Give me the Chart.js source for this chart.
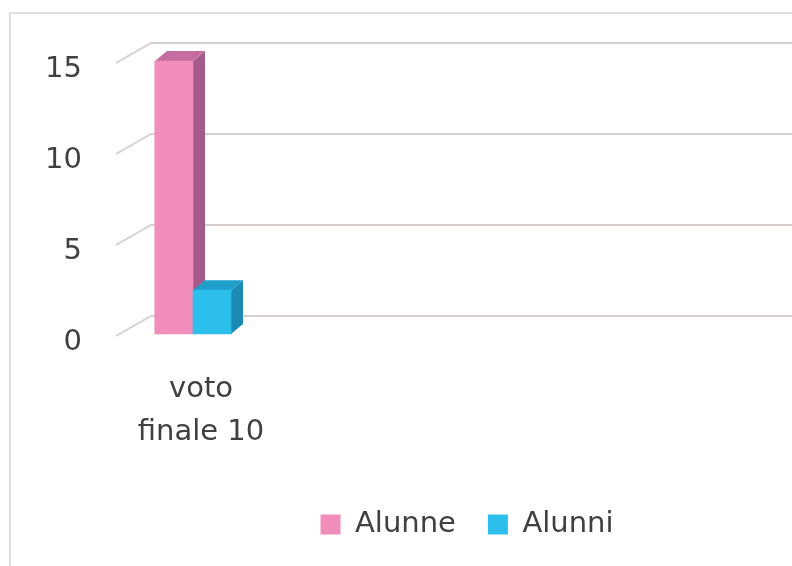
<!DOCTYPE html>
<html>
<head>
<meta charset="utf-8">
<script src="https://cdn.jsdelivr.net/npm/chart.js@4.4.1/dist/chart.umd.min.js"></script>
<style>
  html, body { margin: 0; padding: 0; background: #fff; overflow: hidden; width: 792px; height: 566px; }
  #frame { position: absolute; left: 9px; top: 12px; width: 960px; height: 620px; border: 2px solid #dedede; }
  #chart { position: absolute; left: 0; top: 0; }
</style>
</head>
<body>
<div id="frame"></div>
<canvas id="chart" width="934" height="549"></canvas>
<script>
const categories = ['voto finale 10']
const alunne = [15]
const alunni = [2.4]
const seriesNames = ['Alunne', 'Alunni']
const yTicks = [0, 5, 10, 15]

const textColor = '#404040'
const font = { family: 'DejaVu Sans', size: 29, lineHeight: 1.48 }

// front, side, top colours for each series
const shades = [
  { front: '#F18DBB', side: '#A45A8A', top: '#C56DA1' },
  { front: '#2DBFEC', side: '#1B8AB4', top: '#1F9FCC' },
]

function toPoints(values) {
  return values.map((v, i) => ({ x: i, y: v }))
}

// fake 3d: back wall grid + side/top faces of the columns
const fake3d = {
  id: 'fake3d',
  beforeDatasetsDraw(chart) {
    const ctx = chart.ctx
    const area = chart.chartArea
    const y = chart.scales.y
    ctx.save()
    ctx.strokeStyle = '#d9cfcf'
    ctx.lineWidth = 2
    yTicks.forEach(v => {
      const py = y.getPixelForValue(v)
      ctx.beginPath()
      ctx.moveTo(area.left - 2, py + 2)
      ctx.lineTo(area.left + 33, py - 18)
      ctx.lineTo(chart.width, py - 18)
      ctx.stroke()
    })
    ctx.restore()
  },
  afterDatasetsDraw(chart) {
    const ctx = chart.ctx
    const dx = 12, dy = -10
    chart.data.datasets.forEach((ds, di) => {
      const meta = chart.getDatasetMeta(di)
      meta.data.forEach(bar => {
        const p = bar.getProps(['x', 'y', 'base', 'width'], true)
        const l = p.x - p.width / 2, r = p.x + p.width / 2
        ctx.save()
        ctx.fillStyle = shades[di].side
        ctx.beginPath()
        ctx.moveTo(r, p.y)
        ctx.lineTo(r + dx, p.y + dy)
        ctx.lineTo(r + dx, p.base + dy)
        ctx.lineTo(r, p.base)
        ctx.closePath()
        ctx.fill()
        ctx.fillStyle = shades[di].top
        ctx.beginPath()
        ctx.moveTo(l, p.y)
        ctx.lineTo(l + dx, p.y + dy)
        ctx.lineTo(r + dx, p.y + dy)
        ctx.lineTo(r, p.y)
        ctx.closePath()
        ctx.fill()
        ctx.restore()
        bar.draw(ctx)
      })
    })
  },
}

const ctx = document.getElementById('chart').getContext('2d')
new Chart(ctx, {
  type: 'bar',
  data: {
    datasets: [
      { label: seriesNames[0], data: toPoints(alunne), backgroundColor: shades[0].front, borderWidth: 0 },
      { label: seriesNames[1], data: toPoints(alunni), backgroundColor: shades[1].front, borderWidth: 0 },
    ],
  },
  options: {
    responsive: false,
    animation: false,
    barThickness: 38,
    layout: { padding: { top: 61, left: 0, right: 0, bottom: 0 } },
    plugins: {
      tooltip: { enabled: false },
      legend: {
        position: 'bottom',
        labels: {
          font: { family: 'DejaVu Sans', size: 29 },
          color: textColor,
          boxWidth: 20,
          boxHeight: 20,
          padding: 32,
        },
      },
    },
    scales: {
      x: {
        type: 'linear',
        min: -0.5,
        max: 4.94,
        offset: false,
        grid: { display: false, drawTicks: false },
        border: { display: false },
        afterBuildTicks: s => { s.ticks = categories.map((c, i) => ({ value: i })) },
        afterFit: s => { s.height = 144 },
        ticks: {
          autoSkip: false,
          maxRotation: 0,
          padding: 34,
          labelOffset: 8,
          color: textColor,
          font: font,
          callback: v => {
            const t = categories[v] || ''
            const k = t.indexOf(' ')
            return k > 0 ? [t.slice(0, k), t.slice(k + 1)] : t
          },
        },
      },
      y: {
        min: 0,
        max: 15,
        grid: { display: false, drawTicks: false },
        border: { display: false },
        afterBuildTicks: s => { s.ticks = yTicks.map(v => ({ value: v })) },
        afterFit: s => { s.width = 118 },
        ticks: { padding: 36, labelOffset: 8, color: textColor, font: font },
      },
    },
  },
  plugins: [fake3d],
})
</script>
</body>
</html>
